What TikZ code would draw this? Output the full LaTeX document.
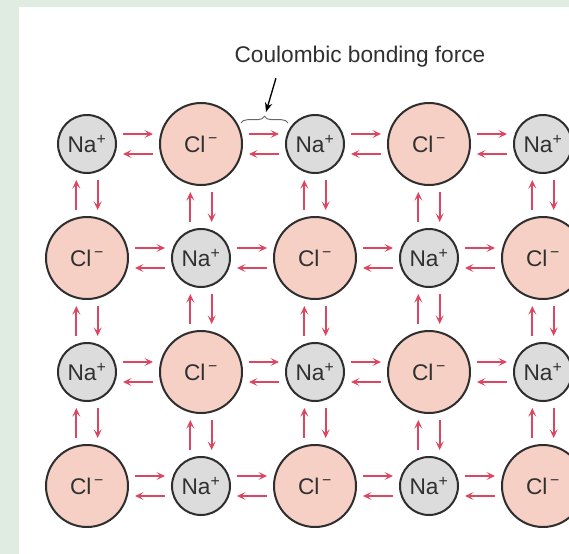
\documentclass[tikz,border=0pt]{standalone}
\usepackage{fontspec}
\setmainfont{Liberation Sans}
\usetikzlibrary{arrows.meta,decorations.pathreplacing,calc}

\definecolor{panelgreen}{HTML}{E0EBE2}
\definecolor{nagrey}{HTML}{DCDCDC}
\definecolor{clpink}{HTML}{F6D0C4}
\definecolor{bondred}{HTML}{DC4660}
\definecolor{ringgrey}{HTML}{2E2E2E}
\definecolor{inkgrey}{HTML}{303030}

\begin{document}
\begin{tikzpicture}[
    x=0.75pt, y=-0.75pt,
    ion/.style ={
        circle,
        draw=ringgrey,
        line width=1.5pt,
        inner sep=0pt,
        text=inkgrey,
        font=\fontsize{17}{17}\selectfont
    },
    na/.style ={ion, fill=nagrey, minimum size=43.5pt},
    cl/.style ={ion, fill=clpink, minimum size=61.5pt},
    bond/.style ={
        -{Stealth[length=6.5pt,width=6pt,inset=3pt]},
        bondred,
        line width=1.6pt,
        shorten <=4.5pt,
        shorten >=4.5pt
    },
    brace/.style ={decorate, decoration={brace, amplitude=5pt}, draw=black!60, line width=0.7pt},
    leader/.style ={-{Stealth[length=7pt,width=5.5pt]}, black, line width=1pt}
    ]
    \clip (0,0) rectangle (569,554);
    \fill[panelgreen] (0,0) rectangle (569,554);
    \fill[white] (19,7) rectangle (569,554);

    % ions of the lattice
    \foreach \r in {1,...,4} {
        \foreach \c in {1,...,5} {
            \pgfmathtruncatemacro\kind{mod(\r+\c,2)}
            \ifnum\kind=0
                \node[na] (n\r\c) at ({87+114*(\c-1)},{144+114*(\r-1)}) {Na\textsuperscript{+}};
            \else
                \node[cl] (n\r\c) at ({87+114*(\c-1)},{144+114*(\r-1)}) {Cl\textsuperscript{\,−}};
            \fi
        }
    }

    % forces along the rows
    \foreach \r in {1,...,4} {
        \foreach \c in {1,...,4} {
            \pgfmathtruncatemacro\cn{\c+1}
            \draw[bond] ([yshift=7.5pt]n\r\c.east) -- ([yshift=7.5pt]n\r\cn.west);
            \draw[bond] ([yshift=-7.5pt]n\r\cn.west) -- ([yshift=-7.5pt]n\r\c.east);
        }
    }

    % forces along the columns
    \foreach \r in {1,...,3} {
        \foreach \c in {1,...,5} {
            \pgfmathtruncatemacro\rn{\r+1}
            \draw[bond] ([xshift=8pt]n\r\c.south) -- ([xshift=8pt]n\rn\c.north);
            \draw[bond] ([xshift=-8pt]n\rn\c.north) -- ([xshift=-8pt]n\r\c.south);
        }
    }

    \node[text=inkgrey, font=\fontsize{17}{17}\selectfont] (lbl) at (360,57) {Coulombic bonding force};
    \coordinate (bl) at (241,123);
    \coordinate (br) at (288,123);
    \coordinate (tip) at (266,112);
    \draw[brace] (bl) -- (br);
    \draw[leader] ($(lbl.south west)+(46,6)$) -- (tip);

\end{tikzpicture}
\end{document}
